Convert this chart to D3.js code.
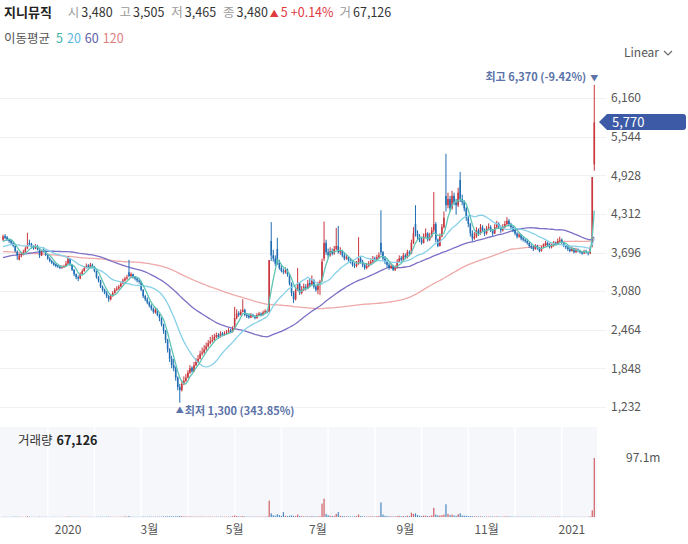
<!DOCTYPE html>
<html><head><meta charset="utf-8">
<script src="https://cdn.jsdelivr.net/npm/d3@7"></script>
<style>
body{margin:0;background:#fff;}
svg{font-family:"Noto Sans CJK KR","Noto Sans",sans-serif;}
</style></head><body><svg id="c" width="688" height="544"></svg>
<script>
// ---------------- DATA ----------------
const stockName = "지니뮤직";
const headerStats = [["시","3,480"],["고","3,505"],["저","3,465"],["종","3,480"]];
const headerChange = ["▲","5","+0.14%"];
const headerVolume = ["거","67,126"];
const maLabel = "이동평균";
const maPeriods = [5, 20, 60, 120];
const startDate = "2019-11-14";
const holidays = ["2019-12-25","2019-12-31","2020-01-01","2020-01-24","2020-01-27","2020-04-15","2020-04-30","2020-05-01","2020-05-05","2020-08-17","2020-09-30","2020-10-01","2020-10-02","2020-10-09","2020-12-25","2020-12-31","2021-01-01"];
const xTickDates = ["2020-01-02","2020-03-02","2020-05-04","2020-07-01","2020-09-01","2020-11-02","2021-01-04"];
const xTickLabels = ["2020","3월","5월","7월","9월","11월","2021"];
const yTicks = [1232,1848,2464,3080,3696,4312,4928,5544,6160];
// closes before the first visible day (only used for moving averages)
const preCloses = [4100,4050,4030,4070,4110,4060,4020,4000,4040,4010,
3980,3950,3990,4030,3970,3930,3910,3950,3920,3890,
3930,3960,3920,3880,3850,3900,3870,3840,3880,3910,
3870,3830,3800,3840,3810,3770,3730,3750,3790,3760,
3720,3690,3650,3610,3570,3530,3550,3590,3560,3520,
3500,3540,3580,3550,3520,3560,3600,3570,3610,
3490,3460,3430,3400,3440,3480,3450,3420,3460,3500,
3480,3520,3490,3460,3500,3540,3510,3480,3520,3560,
3530,3500,3480,3450,3490,3520,3550,3580,3540,3510,
3550,3590,3560,3600,3640,3610,3660,3700,3670,3640,
3700,3740,3720,3690,3730,3770,3750,3720,3760,3800,3780,3740,3770,3810,3840,3800,3820,3860,3830,3880];
const opens = [3900,3960,3940,3900,3890,3850,3800,3710,3580,3640,
3660,3700,3760,3850,3830,3790,3760,3800,3760,3650,
3740,3720,3660,3600,3560,3530,3510,3490,3470,3450,
3460,3480,3520,3600,3500,3420,3350,3300,3280,3350,
3400,3450,3490,3460,3500,3470,3400,3300,3250,3150,
3100,3050,3000,2950,3000,3050,3100,3120,3150,3200,
3250,3280,3380,3320,3350,3300,3280,3250,3230,3100,
3000,2950,2900,2850,2800,2740,2780,2700,2650,2550,
2450,2300,2150,2000,1900,1850,1700,1550,1500,1600,
1650,1700,1780,1860,1800,1900,1950,2000,2080,2100,
2150,2200,2250,2280,2300,2350,2380,2350,2410,2380,
2400,2420,2460,2430,2480,2650,2730,2700,2750,2780,
2700,2690,2660,2700,2680,2650,2700,2720,2700,2740,
2760,2750,3880,3650,3600,3750,3540,3450,3400,3380,
3420,3350,3200,3050,2950,3100,3200,3050,3100,3150,
3120,3210,3180,3250,3150,3100,3200,3250,3600,3850,
3700,3650,3720,3680,3750,3800,3700,3720,3650,3600,
3620,3580,3550,3500,3480,3520,3600,3550,3500,3450,
3480,3520,3550,3600,3580,3620,3850,3700,3600,3550,
3500,3450,3480,3420,3450,3550,3610,3580,3650,3620,
3700,3680,3850,4150,4000,3950,3900,3850,3950,4000,
3900,3950,4050,4150,3900,3800,3950,4100,4600,4450,
4550,4400,4600,4500,4450,4850,4550,4500,4400,4250,
4150,4000,3920,3950,4050,4000,4100,4050,4000,4080,
4100,4050,4000,4100,4150,4100,4050,4100,4150,4200,
4150,4100,4050,4000,3950,3980,3930,3900,3880,3850,
3800,3780,3750,3800,3760,3720,3780,3800,3850,3820,
3780,3800,3850,3830,3880,3900,3850,3800,3780,3750,
3720,3760,3700,3740,3720,3700,3680,3720,3700,3680,
3800,5100];
const highs = [3980,3990,3960,3920,3900,3870,3810,3730,3680,3700,
3740,3790,4010,3900,3850,3810,3830,3820,3770,3720,
3780,3730,3670,3620,3580,3550,3520,3500,3490,3490,
3500,3560,3640,3610,3510,3430,3360,3330,3380,3430,
3480,3520,3510,3530,3520,3480,3410,3320,3260,3170,
3120,3080,3020,3030,3080,3130,3160,3180,3230,3280,
3310,3340,3580,3380,3360,3320,3300,3270,3240,3110,
3020,2980,2920,2870,2820,2820,2800,2720,2660,2560,
2460,2320,2170,2050,2000,1880,1720,1600,1650,1720,
1760,1820,1900,1880,1950,2010,2060,2130,2180,2220,
2260,2300,2350,2380,2400,2420,2410,2440,2430,2440,
2460,2490,2480,2520,2830,2790,2760,2790,2950,2800,
2730,2710,2730,2720,2700,2730,2750,2740,2770,2790,
2780,3575,4180,3740,3650,3930,3580,3500,3440,3460,
3440,3370,3220,3080,3150,3450,3220,3160,3200,3190,
3260,3280,3330,3270,3180,3230,3260,3600,4190,3900,
3760,3780,3760,3800,4090,4120,3780,3740,3690,3660,
3640,3600,3570,3530,3560,3940,3640,3580,3520,3530,
3560,3600,3640,3630,3660,3700,4370,3720,3640,3580,
3530,3520,3500,3490,3590,3650,3640,3690,3680,3740,
3730,3900,4100,4450,4050,3990,3930,4000,4080,4020,
4010,4100,4660,4180,3920,4000,4150,4350,5270,4650,
4600,4680,4650,4550,4730,4980,4620,4530,4420,4280,
4170,4050,4020,4100,4080,4150,4130,4080,4120,4160,
4130,4070,4150,4200,4180,4130,4150,4200,4260,4230,
4170,4120,4070,4020,4010,3990,3950,3920,3900,3860,
3830,3800,3830,3820,3780,3800,3840,3880,3870,3840,
3830,3880,3870,3920,3950,3920,3860,3820,3800,3770,
3790,3770,3770,3760,3740,3720,3740,3740,3710,3800,
4900,6370];
const lows = [3880,3910,3880,3850,3820,3780,3700,3580,3570,3620,
3650,3690,3750,3800,3760,3740,3750,3730,3610,3640,
3700,3640,3580,3540,3510,3480,3460,3450,3430,3440,
3450,3470,3510,3480,3400,3320,3270,3240,3270,3340,
3390,3440,3440,3450,3450,3380,3280,3220,3130,3070,
3030,2970,2910,2930,2990,3040,3080,3100,3140,3190,
3230,3260,3300,3300,3280,3250,3220,3200,3080,2970,
2920,2870,2820,2770,2720,2720,2680,2600,2520,2400,
2250,2100,1950,1850,1800,1650,1500,1300,1480,1580,
1630,1690,1760,1780,1790,1880,1930,1990,2050,2080,
2130,2180,2230,2260,2290,2330,2320,2340,2360,2370,
2390,2410,2410,2420,2470,2630,2670,2690,2740,2680,
2650,2640,2650,2660,2630,2640,2690,2680,2690,2720,
2730,2740,3560,3550,3480,3500,3420,3380,3350,3360,
3310,3170,3000,2890,2930,3080,3020,3030,3080,3090,
3110,3150,3170,3120,3070,3030,3020,3230,3560,3660,
3600,3630,3650,3660,3730,3680,3660,3620,3570,3580,
3550,3520,3470,3450,3460,3500,3520,3460,3420,3430,
3460,3500,3530,3550,3560,3600,3650,3570,3510,3460,
3420,3430,3400,3400,3440,3530,3550,3560,3590,3600,
3640,3670,3830,3950,3900,3860,3820,3840,3930,3870,
3880,3930,4020,3860,3780,3790,3940,4080,4350,4400,
4350,4380,4450,4300,4420,4500,4450,4350,4200,4100,
3950,3880,3900,3930,3960,3980,4020,3960,3980,4050,
4020,3960,3990,4080,4070,4010,4030,4080,4130,4110,
4070,4020,3970,3920,3930,3890,3870,3850,3820,3770,
3750,3720,3740,3740,3700,3710,3760,3790,3800,3760,
3760,3790,3810,3820,3860,3830,3780,3750,3720,3700,
3710,3680,3690,3700,3680,3660,3670,3680,3650,3670,
3780,5000];
const closes = [3950,3930,3900,3880,3850,3800,3720,3650,3640,3650,
3700,3760,3800,3820,3780,3760,3800,3750,3650,3700,
3720,3660,3600,3560,3530,3500,3480,3470,3450,3460,
3480,3520,3600,3500,3420,3350,3300,3280,3350,3400,
3450,3480,3460,3500,3470,3400,3300,3250,3150,3100,
3050,3000,2950,3000,3050,3100,3120,3150,3200,3250,
3280,3300,3320,3350,3300,3280,3250,3230,3100,3000,
2950,2900,2850,2800,2750,2780,2700,2650,2550,2450,
2300,2150,2000,1900,1850,1700,1550,1500,1600,1650,
1700,1780,1850,1800,1900,1950,2000,2080,2100,2150,
2200,2250,2280,2300,2350,2380,2350,2400,2380,2400,
2420,2450,2430,2480,2650,2720,2700,2750,2780,2700,
2680,2660,2700,2680,2650,2700,2720,2700,2740,2760,
2750,3575,3650,3600,3520,3550,3450,3400,3380,3420,
3350,3200,3050,2950,3100,3200,3050,3100,3150,3120,
3200,3180,3250,3150,3100,3200,3230,3550,3850,3700,
3650,3720,3680,3750,3800,3700,3720,3650,3600,3620,
3580,3550,3500,3480,3520,3600,3550,3500,3450,3480,
3520,3550,3600,3580,3620,3650,3700,3600,3550,3500,
3450,3480,3420,3450,3550,3600,3580,3650,3620,3700,
3680,3850,4000,4000,3950,3900,3850,3950,4000,3900,
3950,4050,4150,3900,3800,3950,4100,4250,4450,4550,
4400,4600,4500,4450,4650,4550,4500,4400,4250,4150,
4000,3920,3950,4050,4000,4100,4050,4000,4080,4100,
4050,4000,4100,4150,4100,4050,4100,4150,4200,4150,
4100,4050,4000,3950,3980,3920,3900,3880,3850,3800,
3780,3750,3800,3760,3720,3780,3800,3850,3820,3780,
3800,3850,3830,3880,3900,3850,3800,3780,3750,3720,
3760,3700,3740,3720,3700,3680,3720,3700,3680,3770,
4900,5770];
// volume in millions of shares
const volumes = [0.4,0.3,0.3,0.2,0.3,0.4,0.5,0.6,0.4,0.3,
0.3,0.4,1.2,0.5,0.3,0.3,0.2,0.3,0.5,0.3,
0.2,0.3,0.3,0.2,0.2,0.3,0.2,0.2,0.2,0.2,
0.3,0.3,0.6,0.5,0.4,0.4,0.3,0.4,0.3,0.3,
0.3,0.3,0.2,0.3,0.2,0.3,0.4,0.4,0.5,0.4,
0.4,0.5,0.6,0.4,0.3,0.3,0.3,0.3,0.4,0.5,
1.0,0.6,1.5,0.5,0.4,0.3,0.3,0.3,0.5,0.6,
0.5,0.5,0.6,0.6,0.5,0.5,0.5,0.6,0.7,0.8,
0.9,1.0,1.1,1.0,1.0,1.1,1.2,1.5,1.2,0.9,
0.8,0.8,0.9,0.6,0.7,0.6,0.6,0.7,0.6,0.6,
0.5,0.5,0.6,0.5,0.5,0.6,0.5,0.5,0.6,0.5,
0.5,0.6,0.8,1.2,2.5,1.5,1.0,0.8,1.5,0.8,
0.6,0.5,0.5,0.6,0.5,0.5,0.6,0.5,0.6,0.7,
0.7,27.0,6.0,3.0,2.0,4.5,3.0,2.0,8.0,2.0,
1.5,2.0,2.5,1.8,1.5,4.0,1.5,1.2,1.0,0.9,
1.0,0.9,1.2,1.0,0.8,1.0,1.2,22.0,30.0,5.0,
3.0,2.0,1.5,1.8,5.0,8.0,2.0,1.5,1.2,1.0,
1.0,0.9,0.8,0.9,1.5,4.0,1.5,1.0,0.9,0.8,
0.8,0.9,1.0,0.9,1.2,1.5,24.0,4.0,2.0,1.5,
1.2,1.0,1.0,0.9,1.5,1.8,1.2,1.5,1.2,2.0,
1.5,7.0,5.0,6.0,3.0,2.0,1.5,2.0,2.0,1.5,
1.5,2.5,15.0,4.0,2.5,2.5,3.0,4.0,21.0,5.0,
3.0,4.0,2.5,2.0,4.5,6.0,2.5,2.0,2.0,1.5,
1.5,1.2,1.0,1.0,0.9,1.0,0.8,0.7,0.8,0.8,
0.7,0.7,0.8,0.9,0.7,0.6,0.7,0.8,1.0,0.8,
0.7,0.6,0.6,0.6,0.5,0.5,0.5,0.5,0.5,0.5,
0.5,0.5,0.5,0.4,0.4,0.4,0.5,0.5,0.4,0.4,
0.4,0.5,0.4,0.5,0.6,0.4,0.4,0.3,0.3,0.3,
0.4,0.3,0.3,0.3,0.3,0.3,0.3,0.3,0.4,1.0,
11.0,97.1];
const volumeLabel = "거래량";
const volumeValue = "67,126";

// ---------------- STYLE ----------------
const UP = "#c8373e", DOWN = "#1f6db3";
const maColors = {5:"#5fc4b4", 20:"#86d0e8", 60:"#7c70c6", 120:"#eeaaa8"};
const maLegendColors = {5:"#3fb3a6", 20:"#5bb6de", 60:"#5d5ca6", 120:"#e07e7e"};
const LABEL_BLUE = "#5b73a8";

const svg = d3.select("#c");
const N = closes.length;
const fmtDay = d3.timeFormat("%Y-%m-%d");
const hol = new Set(holidays);
const dates = [];
for (let d = new Date(startDate + "T00:00:00"); dates.length < N; d = d3.timeDay.offset(d, 1)) {
  const wd = d.getDay(), k = fmtDay(d);
  if (wd !== 0 && wd !== 6 && !hol.has(k)) dates.push(k);
}
const rows = dates.map((d, i) => ({d, i, o: opens[i], h: highs[i], l: lows[i], c: closes[i], v: volumes[i]}));

const x = d3.scaleBand().domain(dates).range([2, 595.3]).padding(0);
const cx = d => x(d) + x.bandwidth() / 2;
const y = d3.scaleLinear().domain([1232, 6160]).range([407, 98]);
const yv = d3.scaleLinear().domain([0, d3.max(volumes)]).range([517, 458]);

// ---- header ----
const h1 = svg.append("text").attr("x", 4).attr("y", 17).style("font-size", "12.5px");
h1.append("tspan").text(stockName).attr("font-weight", "bold").attr("fill", "#222").style("font-size", "13px");
headerStats.forEach((s, k) => {
  h1.append("tspan").text(s[0]).attr("fill", "#9a9a9a").attr("dx", k === 0 ? 16 : 7);
  h1.append("tspan").text(s[1]).attr("fill", "#333").attr("dx", 2);
});
h1.append("tspan").text(headerChange[0]).attr("fill", "#e0393e").attr("dx", 2).style("font-size", "9px");
h1.append("tspan").text(headerChange[1]).attr("fill", "#e0393e").attr("dx", 2);
h1.append("tspan").text(headerChange[2]).attr("fill", "#e0393e").attr("dx", 3);
h1.append("tspan").text(headerVolume[0]).attr("fill", "#9a9a9a").attr("dx", 6);
h1.append("tspan").text(headerVolume[1]).attr("fill", "#333").attr("dx", 2);

const h2 = svg.append("text").attr("x", 4).attr("y", 43).style("font-size", "12.5px");
h2.append("tspan").text(maLabel).attr("fill", "#555");
maPeriods.forEach((p, k) => h2.append("tspan").text(p).attr("fill", maLegendColors[p]).attr("dx", k === 0 ? 6 : 4));

// Linear dropdown
svg.append("text").attr("x", 624).attr("y", 57).text("Linear").attr("fill", "#555").style("font-size", "12px");
svg.append("path").attr("d", "M664,51 L668,55 L672,51").attr("fill", "none").attr("stroke", "#666").attr("stroke-width", 1.1);

// ---- gridlines + y axis ----
svg.append("g").selectAll("line").data(yTicks).join("line")
  .attr("x1", 0).attr("x2", 606).attr("y1", d => Math.round(y(d)) + 0.5).attr("y2", d => Math.round(y(d)) + 0.5)
  .attr("stroke", "#eef0f3");
const yAxis = svg.append("g").attr("transform", "translate(606,0)")
  .call(d3.axisRight(y).tickValues(yTicks).tickFormat(d3.format(",")).tickSize(0).tickPadding(5));
yAxis.select(".domain").remove();
yAxis.selectAll("text").attr("fill", "#555").style("font-size", "12px").style("font-family", "'Noto Sans CJK KR','Noto Sans',sans-serif");

// ---- clip ----
svg.append("clipPath").attr("id", "pc").append("rect").attr("x", 0).attr("y", 62).attr("width", 598).attr("height", 358);
const plot = svg.append("g").attr("clip-path", "url(#pc)");

// ---- moving averages ----
const full = preCloses.concat(closes);
const P = preCloses.length;
const maData = p => rows.map(r => ({d: r.d, v: d3.mean(full.slice(r.i + P - p + 1, r.i + P + 1))}));
const line = d3.line().x(d => cx(d.d)).y(d => y(d.v));
[120, 60].forEach(p => plot.append("path").datum(maData(p)).attr("d", line)
  .attr("fill", "none").attr("stroke", maColors[p]).attr("stroke-width", 1.3));

// ---- candles ----
const cg = plot.append("g");
cg.selectAll("line").data(rows).join("line")
  .attr("x1", d => cx(d.d)).attr("x2", d => cx(d.d))
  .attr("y1", d => y(d.h)).attr("y2", d => y(d.l))
  .attr("stroke", d => d.c >= d.o ? UP : DOWN).attr("stroke-width", 1);
cg.selectAll("rect").data(rows).join("rect")
  .attr("x", d => cx(d.d) - 0.8).attr("width", 1.6)
  .attr("y", d => y(Math.max(d.o, d.c))).attr("height", d => Math.max(1, Math.abs(y(d.o) - y(d.c))))
  .attr("fill", d => d.c >= d.o ? UP : DOWN);

[20, 5].forEach(p => plot.append("path").datum(maData(p)).attr("d", line)
  .attr("fill", "none").attr("stroke", maColors[p]).attr("stroke-width", 1.3));

// ---- high / low markers ----
const hiRow = rows.reduce((a, b) => b.h > a.h ? b : a);
const loRow = rows.reduce((a, b) => b.l < a.l ? b : a);
const last = rows[N - 1];
const fmtN = d3.format(",");
const pct = v => v.toFixed(2) + "%";
svg.append("text").attr("x", cx(hiRow.d) - 8).attr("y", y(hiRow.h) - 4).attr("text-anchor", "end")
  .attr("fill", LABEL_BLUE).attr("font-weight", "bold").style("font-size", "11px")
  .text(`최고 ${fmtN(hiRow.h)} (${pct((last.c / hiRow.h - 1) * 100)})`);
svg.append("text").attr("x", cx(hiRow.d)).attr("y", y(hiRow.h) - 4).attr("text-anchor", "middle")
  .attr("fill", LABEL_BLUE).style("font-size", "8px").text("▼");
svg.append("text").attr("x", cx(loRow.d)).attr("y", y(loRow.l) + 10).attr("text-anchor", "middle")
  .attr("fill", LABEL_BLUE).style("font-size", "8px").text("▲");
svg.append("text").attr("x", cx(loRow.d) + 5).attr("y", y(loRow.l) + 12)
  .attr("fill", LABEL_BLUE).attr("font-weight", "bold").style("font-size", "11px")
  .text(`최저 ${fmtN(loRow.l)} (${pct((last.c / loRow.l - 1) * 100)})`);

// ---- last price tag ----
const ty = Math.round(y(last.c));
svg.append("path").attr("d", `M599,${ty} L607,${ty - 8} H683 Q686,${ty - 8} 686,${ty - 5} V${ty + 5} Q686,${ty + 8} 683,${ty + 8} H607 Z`)
  .attr("fill", "#3d5aa6");
svg.append("text").attr("x", 612).attr("y", ty + 5).attr("fill", "#fff").style("font-size", "13px").text(fmtN(last.c));

// ---- volume panel ----
svg.append("rect").attr("x", 0).attr("y", 427).attr("width", 597).attr("height", 91).attr("fill", "#f5f7fb");
svg.append("g").selectAll("line").data(d3.range(22, N, 23)).join("line")
  .attr("x1", i => cx(dates[i])).attr("x2", i => cx(dates[i])).attr("y1", 427).attr("y2", 518)
  .attr("stroke", "#fff").attr("stroke-width", 1.5);
svg.append("g").selectAll("rect").data(rows).join("rect")
  .attr("x", d => cx(d.d) - 0.6).attr("width", 1.2)
  .attr("y", d => yv(d.v)).attr("height", d => 517 - yv(d.v))
  .attr("fill", d => d.c >= d.o ? UP : DOWN).attr("opacity", 0.8);
const vt = svg.append("text").attr("x", 18).attr("y", 445).style("font-size", "12.5px");
vt.append("tspan").text(volumeLabel).attr("fill", "#333");
vt.append("tspan").text(volumeValue).attr("fill", "#222").attr("font-weight", "bold").attr("dx", 4);
svg.append("text").attr("x", 626).attr("y", yv(d3.max(volumes)) + 4).attr("fill", "#555").style("font-size", "12px")
  .text(d3.max(volumes).toFixed(1) + "m");

// ---- x axis ----
const xAxis = svg.append("g").attr("transform", "translate(0,519)")
  .call(d3.axisBottom(x).tickValues(xTickDates).tickSize(0).tickPadding(6)
    .tickFormat(d => xTickLabels[xTickDates.indexOf(d)]));
xAxis.select(".domain").remove();
xAxis.selectAll("text").attr("fill", "#555").style("font-size", "12px").style("font-family", "'Noto Sans CJK KR','Noto Sans',sans-serif");
</script></body></html>
